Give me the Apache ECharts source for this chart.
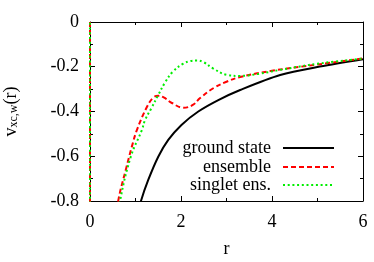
<!DOCTYPE html>
<html><head><meta charset="utf-8">
<script src="https://cdn.jsdelivr.net/npm/echarts@6/dist/echarts.min.js"></script>
<style>html,body{margin:0;padding:0;background:#fff}#c{width:374px;height:262px}</style>
</head><body><div id="c"></div>
<script>
// Data
var rGround = [0.95, 1.12, 1.28, 1.5, 1.72, 2.01, 2.38, 2.82, 3.3, 4.18, 5.05, 6.0];
var vGround = [-0.93, -0.80, -0.706, -0.602, -0.527, -0.46, -0.40, -0.349, -0.304, -0.237, -0.199, -0.166];

var rEns = [0, 0, null, 0.5, 0.62, 0.8, 0.92, 1.03, 1.25, 1.39, 1.5, 1.62, 1.8, 2.05, 2.25, 2.42, 2.71, 3.0, 3.3, 4.0, 5.0, 6.0];
var vEns = [0.5, -2, null, -0.98, -0.80, -0.65, -0.557, -0.483, -0.38, -0.338, -0.33, -0.337, -0.362, -0.383, -0.372, -0.34, -0.296, -0.267, -0.246, -0.218, -0.19, -0.163];

var rSing = [0, 0, null, 0.5, 0.66, 0.9, 1.14, 1.21, 1.35, 1.49, 1.65, 1.82, 2.05, 2.2, 2.35, 2.5, 2.7, 3.0, 3.3, 3.7, 4.18, 5.05, 6.0];
var vSing = [0.5, -2, null, -1.02, -0.80, -0.60, -0.483, -0.438, -0.385, -0.33, -0.27, -0.222, -0.186, -0.175, -0.172, -0.18, -0.207, -0.236, -0.241, -0.232, -0.214, -0.185, -0.164];

var xTicks = [0, 2, 4, 6];
var yTicks = [0, -0.2, -0.4, -0.6, -0.8];
var seriesNames = ['ground state', 'ensemble', 'singlet ens.'];

function pairs(rs, vs) {
  return rs.map(function (r, i) { return r === null ? [null, null] : [r, vs[i]]; });
}

var FONT = '"Liberation Serif", "DejaVu Serif", serif';
var chart = echarts.init(document.getElementById('c'), null, {renderer: 'canvas'});

function legendFor(name, top) {
  return {
    data: [name], right: 34, top: top, orient: 'vertical', align: 'right',
    itemWidth: 51, itemHeight: 10, selectedMode: false,
    itemStyle: {opacity: 0},
    textStyle: {fontFamily: FONT, fontSize: 18, color: '#000', padding: [0, 7, 0, 0]}
  };
}

var axisCommon = {
  axisLine: {onZero: false, lineStyle: {color: '#000', width: 1}},
  axisTick: {inside: true, length: 5, lineStyle: {color: '#000'}},
  minorTick: {show: true, splitNumber: 2, length: 3, lineStyle: {color: '#000'}},
  splitLine: {show: false},
  axisLabel: {fontFamily: FONT, fontSize: 18, color: '#000'}
};

chart.setOption({
  animation: false,
  grid: {left: 90, right: 11, top: 22, bottom: 61, containLabel: false, outerBoundsMode: 'none'},
  legend: [legendFor(seriesNames[0], 134), legendFor(seriesNames[1], 153), legendFor(seriesNames[2], 171)],
  xAxis: [
    Object.assign({}, axisCommon, {
      type: 'value', min: xTicks[0], max: xTicks[xTicks.length - 1], interval: 2, position: 'bottom',
      name: 'r', nameLocation: 'middle', nameGap: 39,
      nameTextStyle: {fontFamily: FONT, fontSize: 18, color: '#000'},
      axisLabel: {fontFamily: FONT, fontSize: 18, color: '#000', margin: 12}
    }),
    Object.assign({}, axisCommon, {
      type: 'value', min: 0, max: 6, interval: 2, position: 'top', axisLabel: {show: false}
    })
  ],
  yAxis: [
    Object.assign({}, axisCommon, {
      type: 'value', min: yTicks[yTicks.length - 1], max: yTicks[0], interval: 0.2, position: 'left',
      name: '{v|v}{s|xc,w}{v|(r)}', nameLocation: 'middle', nameGap: 70, nameRotate: 90,
      nameTextStyle: {rich: {
        v: {fontFamily: FONT, fontSize: 18, color: '#000', verticalAlign: 'bottom', lineHeight: 20},
        s: {fontFamily: FONT, fontSize: 12, color: '#000', verticalAlign: 'bottom', lineHeight: 14, padding: [6, 0, 0, 0]}
      }},
      axisLabel: {fontFamily: FONT, fontSize: 18, color: '#000', margin: 11}
    }),
    Object.assign({}, axisCommon, {
      type: 'value', min: -0.8, max: 0, interval: 0.2, position: 'right', axisLabel: {show: false}
    })
  ],
  series: [
    {name: seriesNames[0], type: 'line', data: pairs(rGround, vGround), smooth: 0.3, symbol: 'none',
     lineStyle: {color: '#000', width: 2}, itemStyle: {color: '#000'}, clip: true, z: 3},
    {name: seriesNames[1], type: 'line', data: pairs(rEns, vEns), smooth: 0.4, symbol: 'none',
     lineStyle: {color: '#ff0000', width: 2, type: [5, 3]}, itemStyle: {color: '#ff0000'}, clip: true, z: 4},
    {name: seriesNames[2], type: 'line', data: pairs(rSing, vSing), smooth: 0.4, symbol: 'none',
     lineStyle: {color: '#00ee00', width: 2, type: [2, 2.7]}, itemStyle: {color: '#00ee00'}, clip: true, z: 5}
  ]
});
</script></body></html>
